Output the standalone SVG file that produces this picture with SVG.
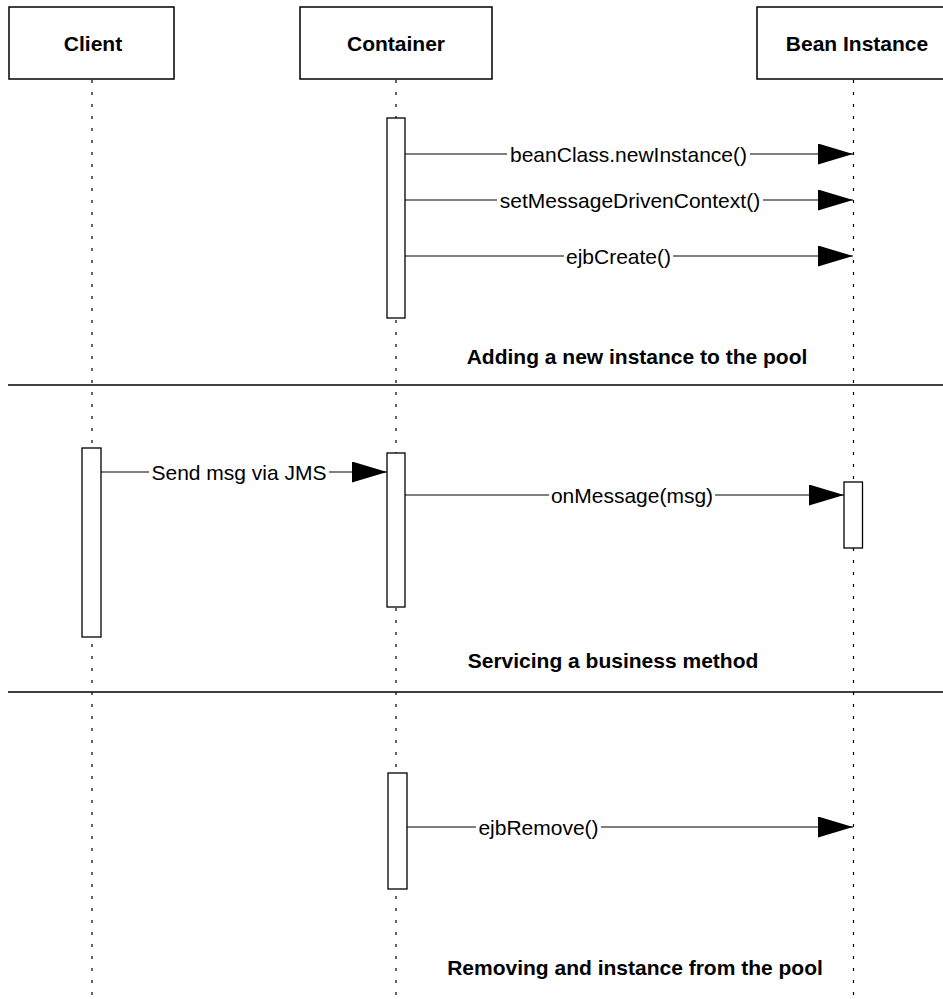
<svg xmlns="http://www.w3.org/2000/svg" width="943" height="999" viewBox="0 0 943 999">
<style>
.box{fill:#fff;stroke:#000;stroke-width:1.5}
.act{fill:#fff;stroke:#000;stroke-width:1.3}
.life{stroke:#000;stroke-width:1.2;stroke-dasharray:3,9;fill:none}
.msg{stroke:#000;stroke-width:1.2;fill:none}
.sep{stroke:#000;stroke-width:1.3}
.hdr{font-family:"Liberation Sans",Arial,sans-serif;font-weight:bold;font-size:21px;text-anchor:middle}
.lbl{font-family:"Liberation Sans",Arial,sans-serif;font-size:21px;text-anchor:middle}
.sec{font-family:"Liberation Sans",Arial,sans-serif;font-weight:bold;font-size:21px;text-anchor:middle}
.bg{fill:#fff}
</style>
<defs>
<marker id="ah" markerUnits="userSpaceOnUse" markerWidth="36" markerHeight="22" refX="35" refY="10.5" orient="auto">
<path d="M0,0 L35,10.5 L0,21 Z" fill="#000"/>
</marker>
</defs>
<rect width="943" height="999" fill="#fff"/>
<g id="lifelines">
<line class="life" x1="92" y1="80" x2="92" y2="999"/>
<line class="life" x1="396" y1="80" x2="396" y2="999"/>
<line class="life" x1="853.5" y1="80" x2="853.5" y2="999"/>
</g>
<g id="client"><rect class="box" x="9" y="7" width="165" height="72"/><text class="hdr" x="93" y="51">Client</text></g>
<g id="container"><rect class="box" x="300" y="7" width="192" height="72"/><text class="hdr" x="396" y="51">Container</text></g>
<g id="bean"><rect class="box" x="757" y="7" width="195" height="72"/><text class="hdr" x="857" y="51">Bean Instance</text></g>
<g id="activations">
<rect class="act" x="387" y="118" width="18" height="200"/>
<rect class="act" x="82" y="448" width="19" height="189"/>
<rect class="act" x="387" y="453" width="18" height="154"/>
<rect class="act" x="844" y="482" width="18.5" height="66"/>
<rect class="act" x="388" y="773" width="19" height="116"/>
</g>
<g id="connectors">
<line class="msg" x1="405" y1="154" x2="853" y2="154" marker-end="url(#ah)"/>
<rect class="bg" x="507" y="142" width="243" height="24"/>
<text class="lbl" x="628.5" y="161.5">beanClass.newInstance()</text>
<line class="msg" x1="405" y1="200" x2="853" y2="200" marker-end="url(#ah)"/>
<rect class="bg" x="497" y="188" width="266" height="24"/>
<text class="lbl" x="630" y="207.5">setMessageDrivenContext()</text>
<line class="msg" x1="405" y1="256" x2="853" y2="256" marker-end="url(#ah)"/>
<rect class="bg" x="564" y="244" width="109" height="24"/>
<text class="lbl" x="618.5" y="263.5">ejbCreate()</text>
<line class="msg" x1="101" y1="472" x2="387" y2="472" marker-end="url(#ah)"/>
<rect class="bg" x="149" y="460" width="180" height="24"/>
<text class="lbl" x="239" y="479.5">Send msg via JMS</text>
<line class="msg" x1="405" y1="495" x2="844" y2="495" marker-end="url(#ah)"/>
<rect class="bg" x="549" y="483" width="166" height="24"/>
<text class="lbl" x="632" y="502.5">onMessage(msg)</text>
<line class="msg" x1="407" y1="827" x2="853" y2="827" marker-end="url(#ah)"/>
<rect class="bg" x="476" y="815" width="125" height="24"/>
<text class="lbl" x="538.5" y="834.5">ejbRemove()</text>
</g>
<g id="sections">
<line class="sep" x1="8" y1="385" x2="943" y2="385"/>
<line class="sep" x1="8" y1="692" x2="943" y2="692"/>
<text class="sec" x="637" y="363.5">Adding a new instance to the pool</text>
<text class="sec" x="613" y="668">Servicing a business method</text>
<text class="sec" x="635" y="975">Removing and instance from the pool</text>
</g>
</svg>
